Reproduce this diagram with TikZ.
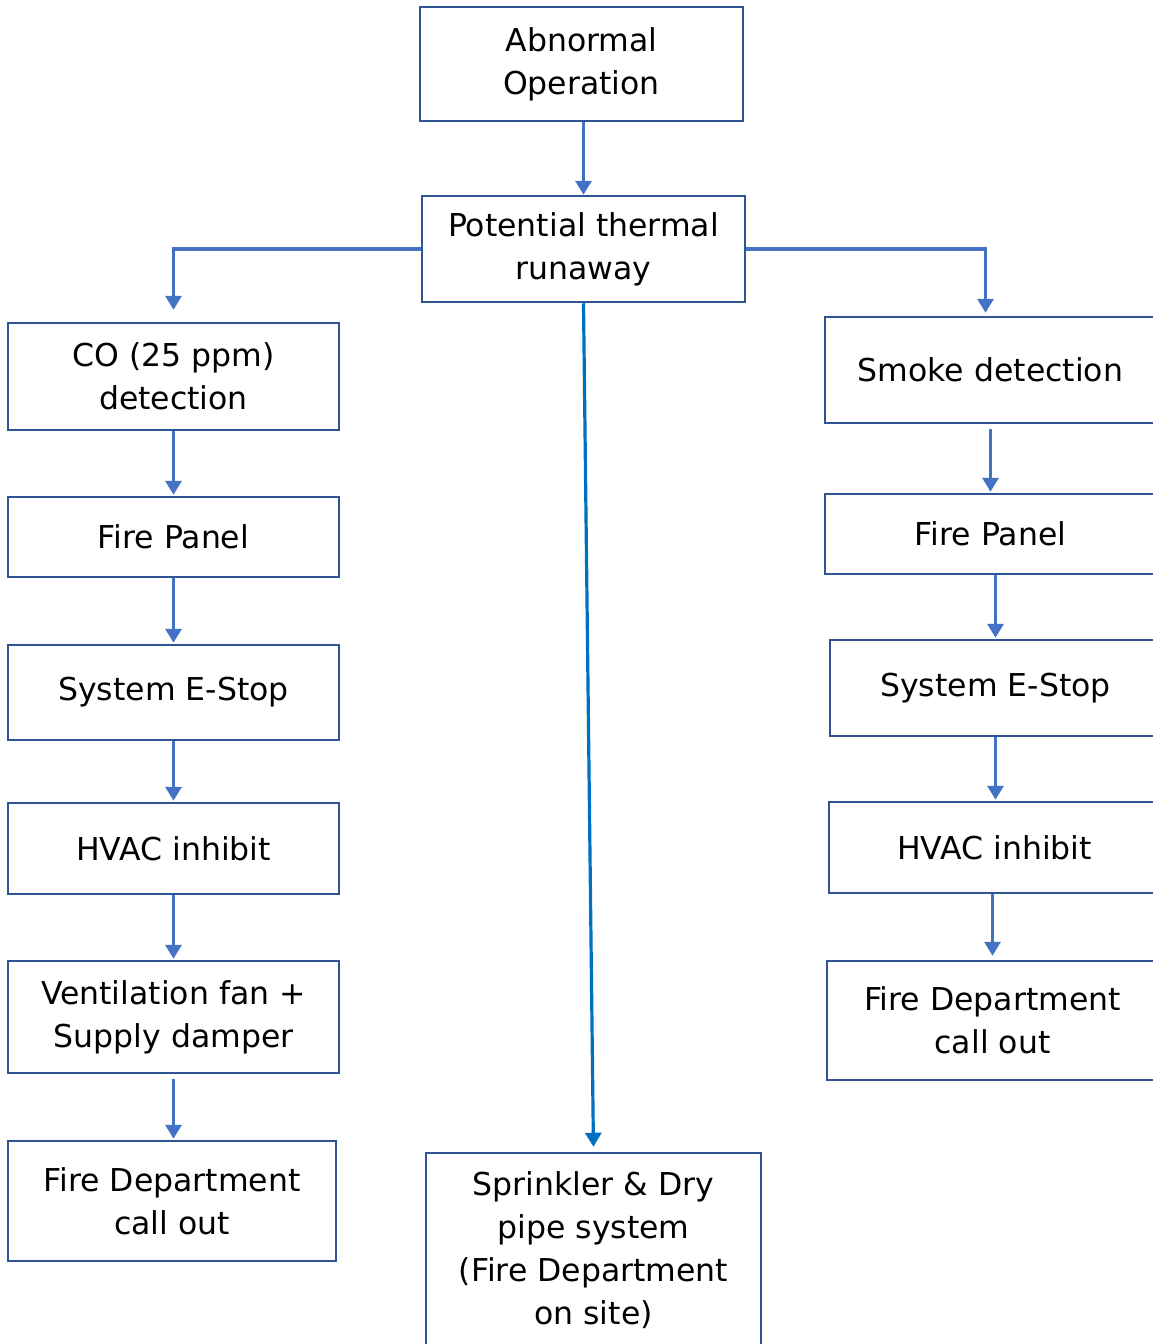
\documentclass[tikz,border=0pt]{standalone}
\usepackage{fontspec}
\setmainfont{DejaVu Sans}
\usetikzlibrary{arrows.meta}
\definecolor{boxblue}{RGB}{47,85,151}
\definecolor{arrblue}{RGB}{68,114,196}
\definecolor{midblue}{RGB}{0,112,192}
\begin{document}
\begin{tikzpicture}[x=1pt,y=-1pt,
 box/.style={draw=boxblue,line width=2.5pt,align=center,inner sep=0pt,
   font=\fontsize{31.5}{43}\selectfont,text=black},
 arr/.style={draw=arrblue,line width=3.2pt,-{Triangle[width=16pt,length=14pt]}},
]
\useasboundingbox (0,0) rectangle (1153,1344);
\fill[white] (0,0) rectangle (1153,1344);

\node[box,minimum width=323pt,minimum height=114pt] (ab) at (581.5,64) {Abnormal\\Operation};
\node[box,minimum width=323pt,minimum height=106pt] (pot) at (583.5,249) {Potential thermal\\runaway};

\node[box,minimum width=331pt,minimum height=107pt] (co) at (173.5,376.5) {CO (25 ppm)\\detection};
\node[box,minimum width=331pt,minimum height=80pt] (fpl) at (173.5,537) {Fire Panel};
\node[box,minimum width=331pt,minimum height=95pt] (esl) at (173.5,692.5) {System E-Stop};
\node[box,minimum width=331pt,minimum height=91pt] (hvl) at (173.5,848.5) {HVAC inhibit};
\node[box,minimum width=331pt,minimum height=112pt] (ven) at (173.5,1017) {Ventilation fan +\\Supply damper};
\node[box,minimum width=328pt,minimum height=120pt] (fdl) at (172,1201) {Fire Department\\call out};

\node[box,minimum width=331pt,minimum height=106pt] (smk) at (990.5,370) {Smoke detection};
\node[box,minimum width=331pt,minimum height=80pt] (fpr) at (990.5,534) {Fire Panel};
\node[box,minimum width=331pt,minimum height=96pt] (esr) at (995.5,688) {System E-Stop};
\node[box,minimum width=331pt,minimum height=91pt] (hvr) at (994.5,847.5) {HVAC inhibit};
\node[box,minimum width=331pt,minimum height=119pt] (fdr) at (992.5,1020.5) {Fire Department\\call out};

\node[box,minimum width=335pt,minimum height=195pt] (spr) at (593.5,1250.5) {Sprinkler \& Dry\\pipe system\\(Fire Department\\on site)};

\draw[arr] (pot.north |- ab.south) -- (pot.north);
\draw[arr,shorten >=12pt] (pot.west) -| (co.north);
\draw[arr,shorten >=3pt] (pot.east) -| ([xshift=-5pt]smk.north);
\draw[arr,draw=midblue,shorten >=5pt] (pot.south) -- (spr.north);

\draw[arr,shorten >=1pt] (co.south) -- (fpl.north);
\draw[arr,shorten >=1pt] (fpl.south) -- (esl.north);
\draw[arr,shorten >=1pt] (esl.south) -- (hvl.north);
\draw[arr,shorten >=1pt] (hvl.south) -- (ven.north);
\draw[arr,shorten <=5pt,shorten >=1pt] (ven.south) -- (ven.south |- fdl.north);

\draw[arr,shorten <=5pt,shorten >=1pt] (smk.south) -- (fpr.north);
\draw[arr,shorten >=1pt] (esr.north |- fpr.south) -- (esr.north);
\draw[arr,shorten >=1pt] (esr.south) -- (esr.south |- hvr.north);
\draw[arr,shorten >=4pt] (fdr.north |- hvr.south) -- (fdr.north);
\end{tikzpicture}
\end{document}
